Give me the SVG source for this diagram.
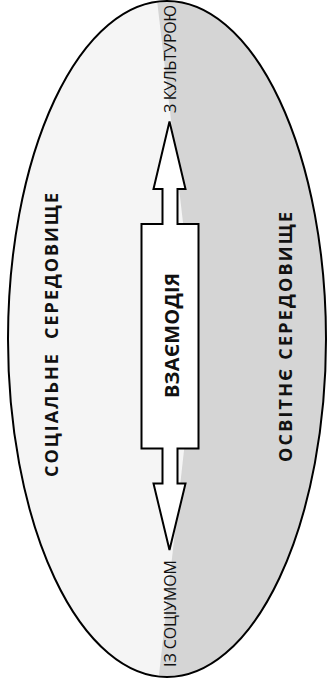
<svg xmlns="http://www.w3.org/2000/svg" width="327" height="693" viewBox="0 0 327 693">
  <style>
    .outline { stroke: #000; stroke-width: 2; }
    .label { font-family: "Open Sans", "Noto Sans", "DejaVu Sans", sans-serif; fill: #111; text-anchor: middle; white-space: pre; }
    .side { font-size: 18px; font-weight: 700; }
    .end { font-size: 16px; font-weight: 400; }
    .core { font-size: 20px; font-weight: 700; }
  </style>
  <defs>
    <clipPath id="oval">
      <ellipse cx="167" cy="339" rx="159" ry="338"/>
    </clipPath>
  </defs>

  <rect width="327" height="693" fill="#fff"/>

  <!-- two environments sharing one oval -->
  <g id="environments">
    <ellipse cx="167" cy="339" rx="159" ry="338" fill="#f5f5f5"/>
    <polygon points="157,0 196.5,338 157,693 330,693 330,0" fill="#d5d5d5" clip-path="url(#oval)"/>
    <ellipse cx="167" cy="339" rx="159" ry="338" fill="none" class="outline"/>
  </g>

  <g id="social">
    <text class="label side" xml:space="preserve" transform="translate(57.5,335) rotate(-90)" textLength="284" lengthAdjust="spacing">СОЦІАЛЬНЕ  СЕРЕДОВИЩЕ</text>
  </g>

  <g id="educational">
    <text class="label side" transform="translate(291.5,337) rotate(-90)" textLength="250" lengthAdjust="spacing">ОСВІТНЄ СЕРЕДОВИЩЕ</text>
  </g>

  <!-- double arrow with the central block -->
  <g id="interaction">
    <polygon class="outline" fill="#fff" stroke-linejoin="miter"
      points="169.5,121.5 185.5,189 177.5,189 177.5,224 198.5,224 198.5,448.5 177.5,448.5 177.5,483.5 185.5,483.5 169.5,550 153.5,483.5 162.5,483.5 162.5,448.5 141.5,448.5 141.5,224 162.5,224 162.5,189 153.5,189"/>
    <text class="label core" transform="translate(179,335.5) rotate(-90)" textLength="125" lengthAdjust="spacing">ВЗАЄМОДІЯ</text>
  </g>

  <g id="culture">
    <text class="label end" transform="translate(175.5,59) rotate(-90)" textLength="108" lengthAdjust="spacing">З КУЛЬТУРОЮ</text>
  </g>

  <g id="society">
    <text class="label end" transform="translate(175.5,613.5) rotate(-90)" textLength="107" lengthAdjust="spacing">ІЗ СОЦІУМОМ</text>
  </g>
</svg>
